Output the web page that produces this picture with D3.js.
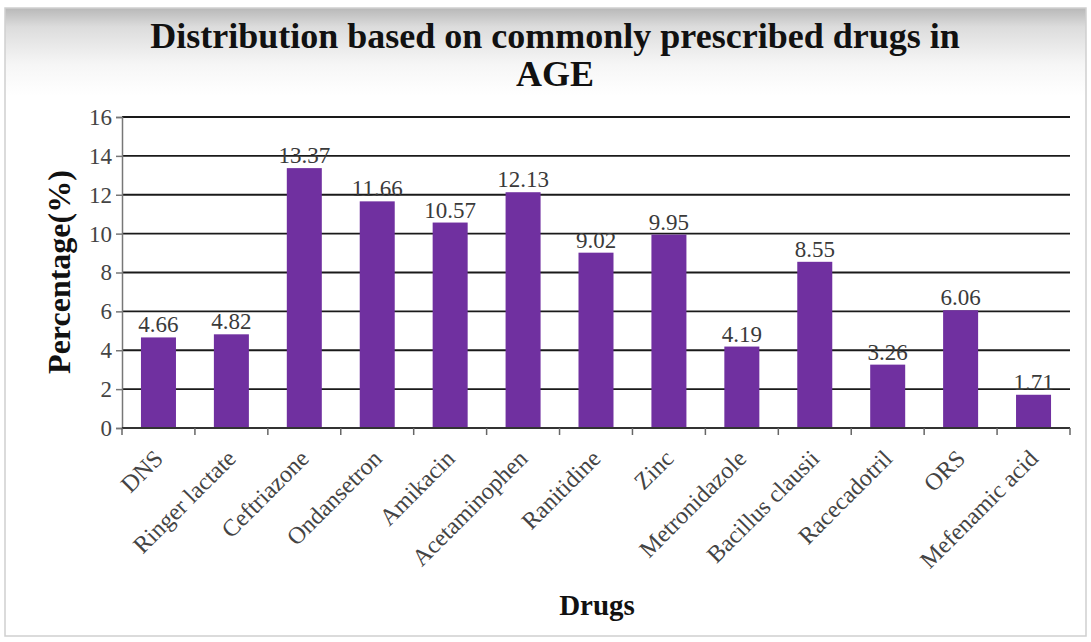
<!DOCTYPE html>
<html>
<head>
<meta charset="utf-8">
<script src="https://cdn.jsdelivr.net/npm/d3@7"></script>
<style>
  html, body { margin: 0; padding: 0; background: #fff; }
  svg { display: block; }
</style>
</head>
<body>
<svg id="chart" width="1091" height="642"></svg>
<script>
// Drug categories and their share of prescriptions (%)
const drugs = ["DNS", "Ringer lactate", "Ceftriazone", "Ondansetron", "Amikacin",
  "Acetaminophen", "Ranitidine", "Zinc", "Metronidazole", "Bacillus clausii",
  "Racecadotril", "ORS", "Mefenamic acid"];
const percentages = [4.66, 4.82, 13.37, 11.66, 10.57, 12.13, 9.02, 9.95, 4.19, 8.55, 3.26, 6.06, 1.71];
const yTicks = [0, 2, 4, 6, 8, 10, 12, 14, 16];

const svg = d3.select("#chart");
const W = 1091, H = 642;
const serif = "'Liberation Serif', 'DejaVu Serif', serif";

// Frame with a soft grey band fading in at the top
const defs = svg.append("defs");
const grad = defs.append("linearGradient").attr("id", "topFade")
  .attr("x1", 0).attr("y1", 0).attr("x2", 0).attr("y2", 1);
grad.append("stop").attr("offset", "0%").attr("stop-color", "#b8b8b8");
grad.append("stop").attr("offset", "3%").attr("stop-color", "#dcdcdc");
grad.append("stop").attr("offset", "9%").attr("stop-color", "#f6f6f6");
grad.append("stop").attr("offset", "14%").attr("stop-color", "#ffffff");
grad.append("stop").attr("offset", "100%").attr("stop-color", "#ffffff");

svg.append("rect").attr("x", 5).attr("y", 8).attr("width", W - 10).attr("height", H - 14)
  .attr("fill", "url(#topFade)").attr("stroke", "#cfcfcf").attr("stroke-width", 1.5);

const margin = { left: 122, right: 1070, top: 117, bottom: 428 };

const x = d3.scaleBand().domain(drugs).range([margin.left, margin.right]).paddingInner(0.52).paddingOuter(0.26);
const xEdges = d3.scaleLinear().domain([0, drugs.length]).range([margin.left, margin.right]);
const y = d3.scaleLinear().domain([0, 16]).range([margin.bottom, margin.top]);

// Horizontal gridlines
svg.append("g").selectAll("line").data(yTicks.filter(t => t > 0)).join("line")
  .attr("x1", margin.left).attr("x2", margin.right)
  .attr("y1", d => y(d)).attr("y2", d => y(d))
  .attr("stroke", "#1a1a1a").attr("stroke-width", 1.8);

// Y axis
const yAxis = svg.append("g").attr("transform", `translate(${margin.left},0)`)
  .call(d3.axisLeft(y).tickValues(yTicks).tickSize(6).tickPadding(4).tickFormat(d3.format("d")));
yAxis.select(".domain").attr("stroke", "#777").attr("stroke-width", 1.5);
yAxis.selectAll(".tick line").attr("stroke", "#777").attr("stroke-width", 1.5);
yAxis.selectAll("text").attr("font-family", serif).attr("font-size", 23).attr("fill", "#444");

// Bars
svg.append("g").selectAll("rect").data(drugs).join("rect")
  .attr("x", d => x(d))
  .attr("y", (d, i) => y(percentages[i]))
  .attr("width", x.bandwidth())
  .attr("height", (d, i) => y(0) - y(percentages[i]))
  .attr("fill", "#7030a0");

// X axis baseline with ticks on category boundaries
svg.append("line").attr("x1", margin.left).attr("x2", margin.right)
  .attr("y1", y(0)).attr("y2", y(0)).attr("stroke", "#333").attr("stroke-width", 1.8);
svg.append("g").selectAll("line").data(d3.range(drugs.length + 1)).join("line")
  .attr("x1", d => xEdges(d)).attr("x2", d => xEdges(d))
  .attr("y1", y(0)).attr("y2", y(0) + 7)
  .attr("stroke", "#666").attr("stroke-width", 1.5);

// Value labels above bars
svg.append("g").selectAll("text").data(drugs).join("text")
  .attr("x", d => x(d) + x.bandwidth() / 2)
  .attr("y", (d, i) => y(percentages[i]) - 5)
  .attr("text-anchor", "middle")
  .attr("font-family", serif).attr("font-size", 23).attr("fill", "#3a3a3a")
  .text((d, i) => percentages[i].toFixed(2));

// Rotated category labels
svg.append("g").selectAll("text").data(drugs).join("text")
  .attr("transform", d => `translate(${x(d) + x.bandwidth() / 2 + 6},${y(0) + 32}) rotate(-45)`)
  .attr("text-anchor", "end")
  .attr("font-family", serif).attr("font-size", 24).attr("fill", "#444")
  .text(d => d);

// Title
const title = svg.append("text").attr("text-anchor", "middle")
  .attr("font-family", serif).attr("font-weight", "bold").attr("font-size", 36).attr("fill", "#111");
title.append("tspan").attr("x", 555).attr("y", 48).text("Distribution based on commonly prescribed drugs in");
title.append("tspan").attr("x", 555).attr("y", 86).text("AGE");

// Axis titles
svg.append("text").attr("transform", "translate(70,272) rotate(-90)")
  .attr("text-anchor", "middle").attr("font-family", serif).attr("font-weight", "bold")
  .attr("font-size", 32).attr("fill", "#111").text("Percentage(%)");
svg.append("text").attr("x", 597).attr("y", 615)
  .attr("text-anchor", "middle").attr("font-family", serif).attr("font-weight", "bold")
  .attr("font-size", 29).attr("fill", "#111").text("Drugs");
</script>
</body>
</html>
